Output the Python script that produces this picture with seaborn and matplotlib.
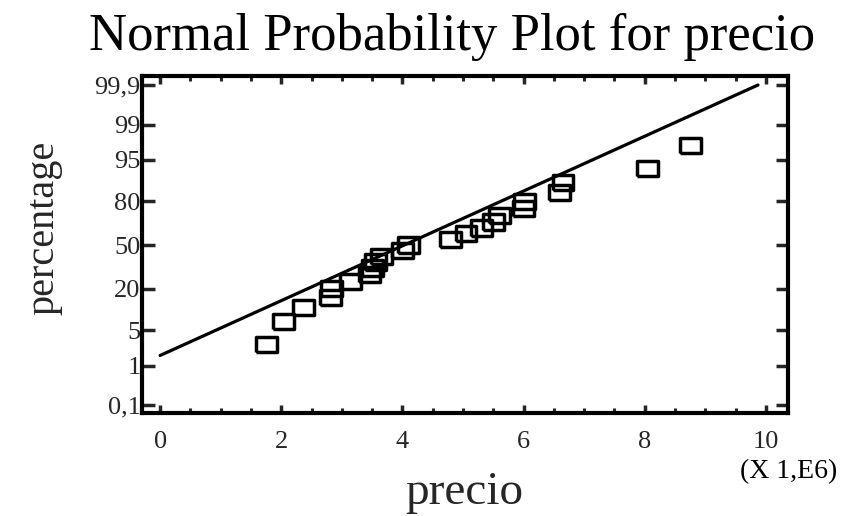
import math
import numpy as np
import pandas as pd
import matplotlib
matplotlib.use("Agg")
import matplotlib.pyplot as plt
from matplotlib.ticker import FixedLocator, FixedFormatter, MultipleLocator
import seaborn as sns

# precio values (millions) and their cumulative plotting percentages
precio = [1.76, 2.04, 2.37, 2.81, 2.83, 3.14, 3.45, 3.50, 3.55, 3.65, 4.00, 4.10,
          4.80, 5.05, 5.30, 5.50, 5.60, 6.00, 6.02, 6.60, 6.65, 8.05, 8.75]
percentage = [2.7, 7.0, 11.3, 15.6, 19.9, 24.2, 28.5, 32.8, 37.1, 41.4, 45.7, 50.0,
              54.3, 58.6, 62.9, 67.2, 71.5, 75.8, 80.1, 84.4, 88.7, 93.0, 97.3]

# fitted normal reference line (millions)
fit_mean = 4.03
fit_sd = 1.89

y_ticks = [0.1, 1, 5, 20, 50, 80, 95, 99, 99.9]
y_tick_labels = ["0,1", "1", "5", "20", "50", "80", "95", "99", "99,9"]
x_ticks = [0, 2, 4, 6, 8, 10]


def _ppf(p):
    """Inverse standard normal CDF (Acklam's rational approximation)."""
    p = np.clip(np.asarray(p, dtype=float), 1e-12, 1 - 1e-12)
    a = [-3.969683028665376e+01, 2.209460984245205e+02, -2.759285104469687e+02,
         1.383577518672690e+02, -3.066479806614716e+01, 2.506628277459239e+00]
    b = [-5.447609879822406e+01, 1.615858368580409e+02, -1.556989798598866e+02,
         6.680131188771972e+01, -1.328068155288572e+01]
    c = [-7.784894002430293e-03, -3.223964580411365e-01, -2.400758277161838e+00,
         -2.549732539343734e+00, 4.374664141464968e+00, 2.938163982698783e+00]
    d = [7.784695709041462e-03, 3.224671290700398e-01, 2.445134137142996e+00,
         3.754408661907416e+00]
    plow, phigh = 0.02425, 1 - 0.02425
    out = np.empty_like(p)
    lo = p < plow
    hi = p > phigh
    mid = ~(lo | hi)
    q = np.sqrt(-2 * np.log(p[lo]))
    out[lo] = (((((c[0]*q+c[1])*q+c[2])*q+c[3])*q+c[4])*q+c[5]) / \
              ((((d[0]*q+d[1])*q+d[2])*q+d[3])*q+1)
    q = np.sqrt(-2 * np.log(1 - p[hi]))
    out[hi] = -(((((c[0]*q+c[1])*q+c[2])*q+c[3])*q+c[4])*q+c[5]) / \
               ((((d[0]*q+d[1])*q+d[2])*q+d[3])*q+1)
    q = p[mid] - 0.5
    r = q * q
    out[mid] = (((((a[0]*r+a[1])*r+a[2])*r+a[3])*r+a[4])*r+a[5])*q / \
               (((((b[0]*r+b[1])*r+b[2])*r+b[3])*r+b[4])*r+1)
    return out


_erf = np.vectorize(math.erf)


def pct_to_z(pct):
    return _ppf(np.asarray(pct, dtype=float) / 100.0)


def z_to_pct(z):
    z = np.asarray(z, dtype=float)
    return 100.0 * 0.5 * (1 + _erf(z / math.sqrt(2)))


sns.set_style("ticks")
plt.rcParams["font.family"] = ["Liberation Serif", "DejaVu Serif"]
plt.rcParams["text.color"] = "black"

fig = plt.figure(figsize=(8.63, 5.16), dpi=100)
ax = fig.add_axes([0.1645, 0.1996, 0.7482, 0.6531])
ax.set_yscale("function", functions=(pct_to_z, z_to_pct))

points = pd.DataFrame({"precio": precio, "percentage": percentage})

# reference line from x = 0 up to the 99.9 % level
z_top = float(pct_to_z([99.9])[0])
line_x = np.linspace(0, fit_mean + z_top * fit_sd, 60)
line = pd.DataFrame({"precio": line_x,
                     "percentage": z_to_pct((line_x - fit_mean) / fit_sd)})
sns.lineplot(data=line, x="precio", y="percentage", ax=ax, color="black",
             linewidth=2.3, sort=False)

box = [(-1.37, -1), (1.37, -1), (1.37, 1), (-1.37, 1), (-1.37, -1)]
sns.scatterplot(data=points, x="precio", y="percentage", ax=ax, marker=box,
                s=225, facecolor="none", edgecolor="black", linewidth=2.5,
                zorder=3)

ax.set_xlim(-0.30, 10.36)
ax.set_ylim(0.059, 99.945)

ax.xaxis.set_major_locator(FixedLocator(x_ticks))
ax.xaxis.set_minor_locator(MultipleLocator(0.5))
ax.yaxis.set_major_locator(FixedLocator(y_ticks))
ax.yaxis.set_major_formatter(FixedFormatter(y_tick_labels))
ax.yaxis.set_minor_locator(FixedLocator([]))

for s in ax.spines.values():
    s.set_visible(True)
    s.set_linewidth(3)
    s.set_color("black")

ax.tick_params(axis="x", which="major", direction="in", top=True, bottom=True,
               length=6, width=2.5, pad=13, labelsize=19)
ax.tick_params(axis="x", which="minor", direction="in", top=True, bottom=True,
               length=3.5, width=2.2)
ax.tick_params(axis="y", which="major", direction="in", left=True, right=True,
               length=9, width=2.5, pad=1, labelsize=19)

ax.set_xlabel("precio", fontsize=34)
ax.set_ylabel("percentage", fontsize=29)
ax.xaxis.set_label_coords(0.5, -0.175)
ax.yaxis.set_label_coords(-0.123, 0.55)

fig.text(452 / 863, 1 - 37 / 516, "Normal Probability Plot for precio",
         fontsize=38, ha="center", va="center")
fig.text(789 / 863, 1 - 472 / 516, "(X 1,E6)", fontsize=20,
         ha="center", va="center")

fig.savefig("out.png", dpi=100)
